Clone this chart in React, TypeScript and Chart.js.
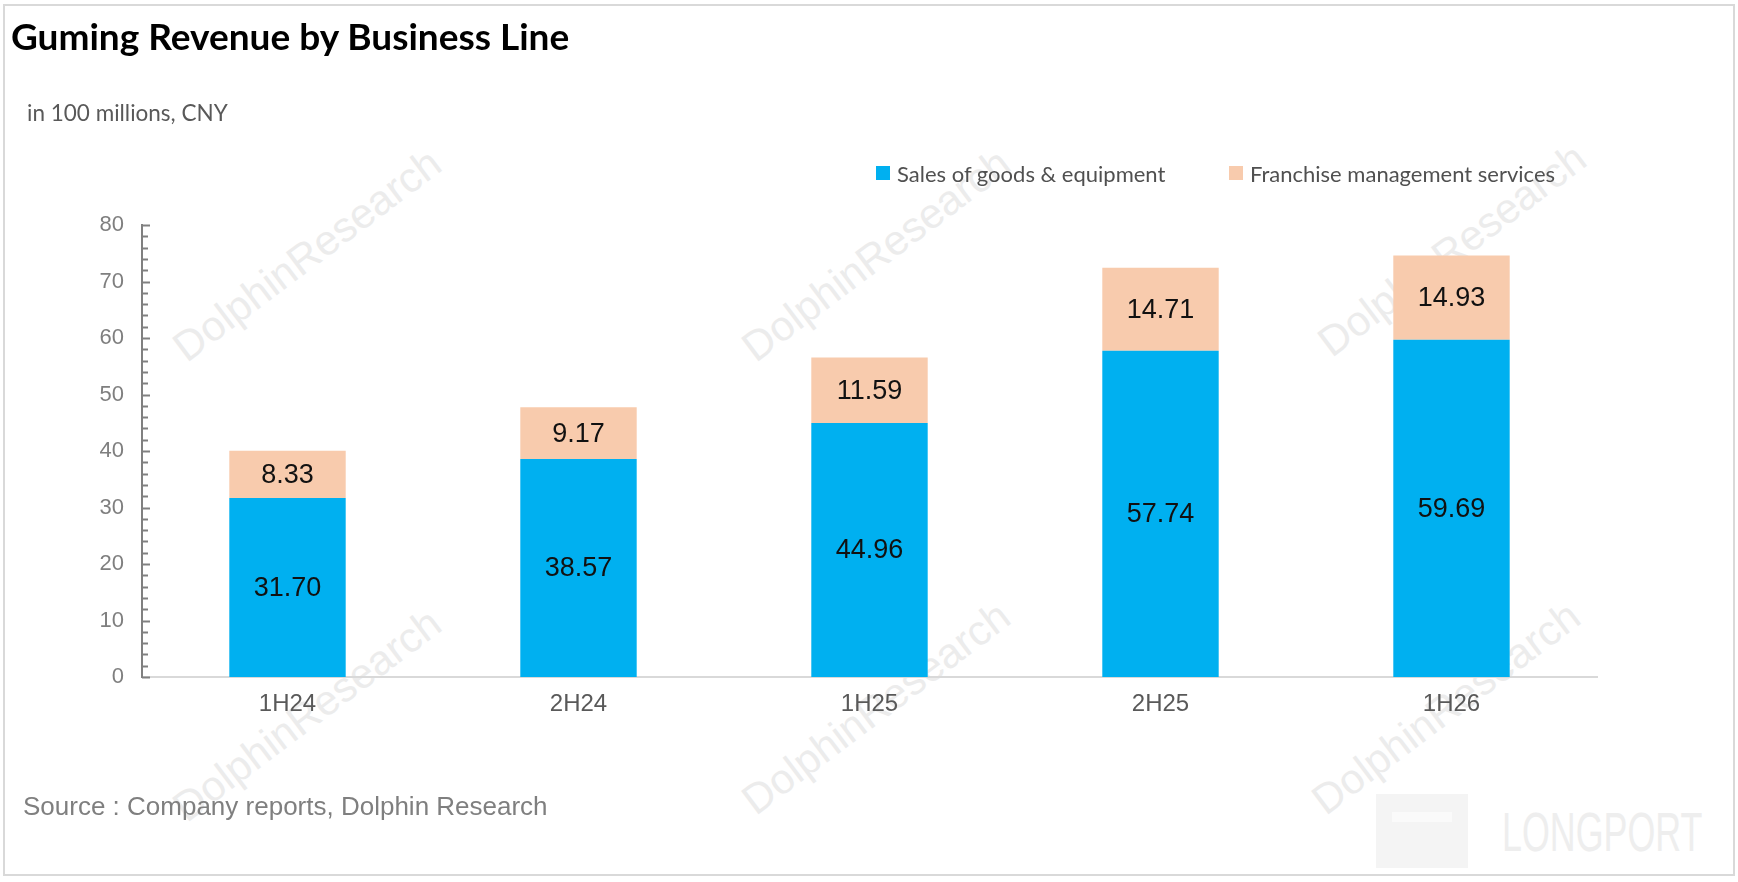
import { useEffect, useRef } from "react";
import { Chart, registerables } from "chart.js";

Chart.register(...registerables);

const periods = ["1H24", "2H24", "1H25", "2H25", "1H26"];
const salesGoods = [31.7, 38.57, 44.96, 57.74, 59.69];
const franchise = [8.33, 9.17, 11.59, 14.71, 14.93];
const seriesNames = ["Sales of goods & equipment", "Franchise management services"];
const seriesColors = ["#00B0F0", "#F8CBAD"];
const yTicks = [0, 10, 20, 30, 40, 50, 60, 70, 80];

const W = 1738;
const H = 882;
const ARIAL = "'Liberation Sans', Arial, sans-serif";
const LATO = "Lato, 'Noto Sans', sans-serif";

// small inward minor ticks on the value axis, every 2 units
const minorTicks = {
  id: "minorTicks",
  afterDraw(chart) {
    const y = chart.scales.y;
    const x0 = chart.chartArea.left;
    const ctx = chart.ctx;
    ctx.save();
    ctx.strokeStyle = "#808080";
    ctx.lineWidth = 2;
    for (let v = 0; v <= 80; v += 2) {
      const py = Math.round(y.getPixelForValue(v)) + 0.5;
      ctx.beginPath();
      ctx.moveTo(x0, py);
      ctx.lineTo(x0 + (v % 10 === 0 ? 8 : 6), py);
      ctx.stroke();
    }
    ctx.restore();
  },
};

const barLabels = {
  id: "barLabels",
  afterDatasetsDraw(chart) {
    const ctx = chart.ctx;
    ctx.save();
    ctx.font = "27px " + ARIAL;
    ctx.fillStyle = "#111";
    ctx.textAlign = "center";
    ctx.textBaseline = "middle";
    chart.data.datasets.forEach((ds, i) => {
      chart.getDatasetMeta(i).data.forEach((bar, j) => {
        const { x, y, base } = bar.getProps(["x", "y", "base"], true);
        ctx.fillText(Number(ds.data[j]).toFixed(2), x, (y + base) / 2 + 1);
      });
    });
    ctx.restore();
  },
};

const marks = [
  [307, 255],
  [876, 255],
  [1452, 250],
  [307, 715],
  [876, 708],
  [1446, 708],
];

export default function App() {
  const canvasRef = useRef(null);

  useEffect(() => {
    const chart = new Chart(canvasRef.current, {
      type: "bar",
      data: {
        labels: periods,
        datasets: [
          { label: seriesNames[0], data: salesGoods, backgroundColor: seriesColors[0] },
          { label: seriesNames[1], data: franchise, backgroundColor: seriesColors[1] },
        ],
      },
      options: {
        responsive: false,
        animation: false,
        devicePixelRatio: 1,
        layout: { padding: { left: 0, right: 141, top: 225, bottom: 0 } },
        datasets: { bar: { barPercentage: 0.4, categoryPercentage: 1 } },
        plugins: { legend: { display: false }, tooltip: { enabled: false } },
        scales: {
          x: {
            stacked: true,
            grid: { display: false, drawTicks: false },
            border: { display: true, color: "#d9d9d9", width: 2 },
            ticks: { color: "#595959", font: { family: ARIAL, size: 24 }, padding: 13 },
            afterFit(scale) {
              scale.height = 205;
            },
          },
          y: {
            stacked: true,
            min: 0,
            max: 80,
            afterBuildTicks(scale) {
              scale.ticks = yTicks.map((v) => ({ value: v }));
            },
            grid: { display: false, drawTicks: false },
            border: { display: true, color: "#808080", width: 2 },
            ticks: { color: "#7f7f7f", font: { family: ARIAL, size: 22 }, padding: 18 },
            afterFit(scale) {
              scale.width = 142;
            },
          },
        },
      },
      plugins: [minorTicks, barLabels],
    });
    return () => chart.destroy();
  }, []);

  return (
    <div style={{ position: "fixed", left: 0, top: 0, width: W, height: H, background: "#fff", overflow: "hidden" }}>
      <div
        style={{
          position: "absolute",
          left: 3,
          top: 4,
          width: 1728,
          height: 868,
          border: "2px solid #d9d9d9",
        }}
      />
      {marks.map(([cx, cy], i) => (
        <div
          key={i}
          style={{
            position: "absolute",
            left: cx - 200,
            top: cy - 25,
            width: 400,
            textAlign: "center",
            fontFamily: ARIAL,
            fontSize: 42,
            lineHeight: "50px",
            color: "#ececec",
            transform: "rotate(-37deg)",
          }}
        >
          DolphinResearch
        </div>
      ))}
      <div style={{ position: "absolute", left: 1376, top: 794, width: 92, height: 74, background: "#f4f4f4" }} />
      <div style={{ position: "absolute", left: 1392, top: 812, width: 60, height: 10, background: "#fafafa" }} />
      <div
        style={{
          position: "absolute",
          left: 1502,
          top: 804,
          fontFamily: ARIAL,
          fontSize: 56,
          lineHeight: "56px",
          color: "#eeeeee",
          transform: "scaleX(0.64)",
          transformOrigin: "left center",
          whiteSpace: "nowrap",
        }}
      >
        LONGPORT
      </div>
      <canvas ref={canvasRef} width={W} height={H} style={{ position: "absolute", left: 0, top: 0 }} />
      <div
        style={{
          position: "absolute",
          left: 11,
          top: 16,
          fontFamily: LATO,
          fontWeight: 700,
          fontSize: 37,
          lineHeight: "40px",
          color: "#000",
        }}
      >
        Guming Revenue by Business Line
      </div>
      <div
        style={{
          position: "absolute",
          left: 27,
          top: 100,
          fontFamily: LATO,
          fontSize: 22.5,
          lineHeight: "26px",
          color: "#595959",
        }}
      >
        in 100 millions, CNY
      </div>
      {[876, 1229].map((lx, i) => (
        <div key={i} style={{ position: "absolute", left: lx, top: 160, height: 26, display: "flex", alignItems: "center" }}>
          <span style={{ width: 14, height: 14, background: seriesColors[i], display: "inline-block" }} />
          <span style={{ marginLeft: 7, fontFamily: LATO, fontSize: 22, color: "#505050", whiteSpace: "nowrap" }}>
            {seriesNames[i]}
          </span>
        </div>
      ))}
      <div
        style={{
          position: "absolute",
          left: 23,
          top: 791,
          fontFamily: ARIAL,
          fontSize: 26,
          lineHeight: "30px",
          color: "#7f7f7f",
        }}
      >
        Source : Company reports, Dolphin Research
      </div>
    </div>
  );
}
